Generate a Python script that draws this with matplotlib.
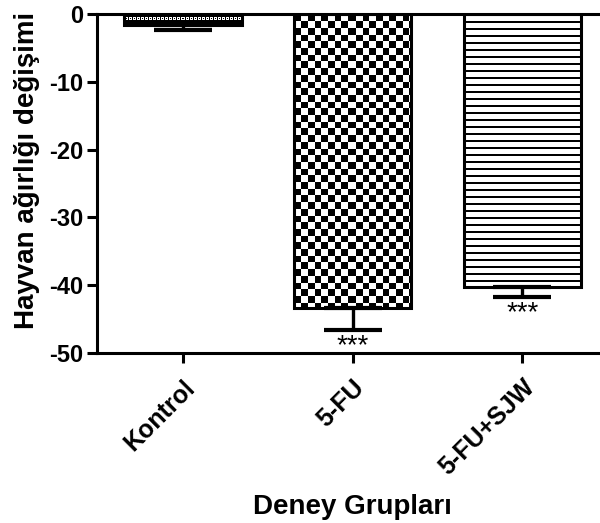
import numpy as np
import matplotlib
matplotlib.use("Agg")
import matplotlib.pyplot as plt

categories = ["Kontrol", "5-FU", "5-FU+SJW"]
means = [-1.6, -43.3, -40.2]
sem = [0.7, 3.3, 1.5]
stars = ["", "***", "***"]
yticks = [0, -10, -20, -30, -40, -50]

plt.rcParams['font.family'] = ['Liberation Sans', 'DejaVu Sans']

fig = plt.figure(figsize=(6.0, 5.23), dpi=100)
ax = fig.add_axes([97/600, 1-353/523, 510/600, 339/523])
x = np.arange(len(categories))
ax.set_xlim(-0.507, 2.5)
ax.set_ylim(-50, 0)

bars = ax.bar(x, means, width=0.69, facecolor='none', edgecolor='black',
              linewidth=2.2, zorder=3)

# pixel scale for the fill patterns
p0 = ax.transData.transform((0, 0))
p1 = ax.transData.transform((1, -1))
pxx = p1[0] - p0[0]
pxy = p0[1] - p1[1]

def pattern(kind, wpx, hpx):
    nc = int(round(wpx)); nr = int(round(hpx))
    r, c = np.indices((nr, nc))
    if kind == 'checker':
        cell = 6.7
        return (((r // cell).astype(int) + (c // cell).astype(int)) % 2).astype(float)
    if kind == 'stripes':
        img = np.ones((nr, nc))
        img[(r % 7) < 2] = 0.0
        return img
    # kontrol: black with a row of small white dots
    img = np.zeros((nr, nc))
    mid = nr // 2
    rows = (r >= mid - 2) & (r <= mid)
    img[rows & ((c % 4) != 0)] = 1.0
    img[(r == mid - 1) & ((c % 4) == 2)] = 0.0
    return img

kinds = ['kontrol', 'checker', 'stripes']
for b, k in zip(bars, kinds):
    x0, y0 = b.get_x(), b.get_y()
    w, h = b.get_width(), b.get_height()
    img = pattern(k, w * pxx, abs(h) * pxy)
    im = ax.imshow(img, extent=[x0, x0 + w, y0 + h, y0], cmap='gray',
                   vmin=0, vmax=1, interpolation='nearest', aspect='auto',
                   zorder=2)
    im.set_clip_path(b)

ax.set_xlim(-0.507, 2.5)
ax.set_ylim(-50, 0)

ax.errorbar(x, means, yerr=[sem, [0] * len(sem)], fmt='none', ecolor='black',
            elinewidth=2.4, capsize=21, capthick=3, zorder=4)

for xi, m, s, st in zip(x, means, sem, stars):
    if st:
        ax.text(xi, m - s - 0.5, st, ha='center', va='top', fontsize=20,
                color='black')

for sp in ['left', 'bottom', 'top']:
    ax.spines[sp].set_linewidth(2.2)
ax.spines['right'].set_visible(False)
ax.spines['top'].set_clip_on(False)

ax.set_yticks(yticks)
ax.set_yticklabels([str(t) for t in yticks], fontsize=17, fontweight='bold')
ax.set_xticks(x)
ax.set_xticklabels(categories, rotation=45, ha='right', rotation_mode='anchor',
                   fontsize=18, fontweight='bold')
ax.tick_params(axis='both', length=7, width=2.2, direction='out', pad=3)
ax.tick_params(axis='x', pad=9)

ax.set_ylabel("Hayvan ağırlığı değişimi", fontsize=20, fontweight='bold')
ax.set_xlabel("Deney Grupları", fontsize=20, fontweight='bold')
ax.yaxis.set_label_coords((40-97)/510, (353-170)/339)
ax.xaxis.set_label_coords(0.5, -(494-353)/339)

fig.savefig("out.png", dpi=100)
